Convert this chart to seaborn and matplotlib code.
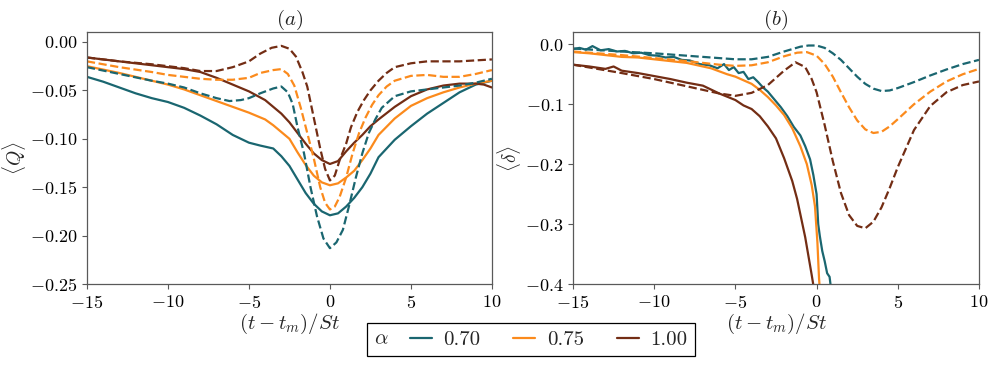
import matplotlib
matplotlib.use("Agg")
import matplotlib.pyplot as plt
from matplotlib.offsetbox import HPacker
import seaborn as sns

# ---- data ------------------------------------------------------------------
alphas = ["0.70", "0.75", "1.00"]
colors = ["#1a6670", "#fb8a1c", "#732d14"]

# panel (a): <Q>
qa_x_070 = [-15, -14, -13, -12, -11, -10, -9, -8, -7, -6, -5, -4.3, -3.5, -3, -2.5, -2, -1.5, -1, -0.5,
            0, 0.5, 1, 1.5, 2, 2.5, 3, 4, 5, 6, 7, 8, 9, 10]
qa_y_070 = [-0.036, -0.041, -0.047, -0.053, -0.058, -0.062, -0.068, -0.076, -0.085, -0.096, -0.104, -0.107,
            -0.110, -0.118, -0.128, -0.142, -0.156, -0.167, -0.175, -0.179, -0.177, -0.170, -0.161, -0.150,
            -0.136, -0.119, -0.101, -0.087, -0.074, -0.063, -0.052, -0.044, -0.040]
qa_xd_070 = [-15, -13, -11, -10, -9, -8, -7, -6.2, -5.5, -5, -4.3, -3.5, -3, -2.6, -2.3, -2, -1.6, -1.2, -0.8,
             -0.4, 0, 0.4, 0.8, 1.2, 1.6, 2, 2.4, 2.8, 3.2, 4, 5, 6, 7, 8, 9, 10]
qa_yd_070 = [-0.026, -0.033, -0.040, -0.043, -0.047, -0.053, -0.058, -0.061, -0.060, -0.058, -0.053, -0.048,
             -0.046, -0.052, -0.064, -0.088, -0.115, -0.150, -0.180, -0.203, -0.213, -0.207, -0.194, -0.168,
             -0.140, -0.115, -0.094, -0.080, -0.068, -0.056, -0.051, -0.049, -0.047, -0.045, -0.042, -0.038]

qa_x_075 = [-15, -13, -11, -10, -9, -8, -7, -6, -5, -4, -3.5, -3, -2.5, -2, -1.5, -1, -0.5, 0, 0.5, 1,
            1.5, 2, 2.5, 3, 4, 5, 6, 7, 8, 9, 10]
qa_y_075 = [-0.025, -0.032, -0.040, -0.044, -0.049, -0.055, -0.061, -0.067, -0.073, -0.080, -0.086, -0.093,
            -0.100, -0.114, -0.127, -0.138, -0.145, -0.148, -0.146, -0.140, -0.133, -0.122, -0.110, -0.096,
            -0.079, -0.066, -0.058, -0.052, -0.047, -0.043, -0.040]
qa_xd_075 = [-15, -13, -11, -10, -9, -8, -7, -6, -5, -4.3, -3.5, -3, -2.6, -2.2, -1.8, -1.4, -1, -0.6, -0.3,
             0, 0.3, 0.6, 1, 1.4, 1.8, 2.2, 2.6, 3, 3.5, 4, 5, 6, 7, 8, 9, 10]
qa_yd_075 = [-0.020, -0.026, -0.031, -0.034, -0.036, -0.038, -0.039, -0.039, -0.037, -0.032, -0.029, -0.028,
             -0.033, -0.045, -0.068, -0.094, -0.120, -0.150, -0.166, -0.173, -0.170, -0.160, -0.140, -0.115,
             -0.094, -0.078, -0.065, -0.055, -0.046, -0.040, -0.035, -0.034, -0.036, -0.036, -0.033, -0.029]

qa_x_100 = [-15, -13, -11, -10, -9, -8, -7, -6, -5, -4, -3.5, -3, -2.5, -2, -1.5, -1, -0.5, 0, 0.5, 1,
            1.5, 2, 2.5, 3, 4, 5, 6, 7, 8, 9, 9.5, 10]
qa_y_100 = [-0.016, -0.020, -0.024, -0.026, -0.028, -0.031, -0.037, -0.044, -0.051, -0.060, -0.067, -0.074,
            -0.083, -0.094, -0.105, -0.115, -0.122, -0.126, -0.123, -0.113, -0.104, -0.096, -0.087, -0.080,
            -0.067, -0.056, -0.049, -0.045, -0.043, -0.043, -0.044, -0.047]
qa_xd_100 = [-15, -13, -11, -10, -9, -8, -7, -6, -5, -4.3, -3.6, -3, -2.5, -2.1, -1.7, -1.4, -1, -0.6, -0.3,
             0, 0.3, 0.6, 1, 1.3, 1.7, 2.1, 2.5, 3, 3.5, 4, 5, 6, 7, 8, 9, 10]
qa_yd_100 = [-0.016, -0.020, -0.023, -0.025, -0.027, -0.030, -0.030, -0.026, -0.020, -0.012, -0.006, -0.004,
             -0.007, -0.015, -0.031, -0.046, -0.078, -0.110, -0.131, -0.143, -0.138, -0.122, -0.105, -0.088,
             -0.072, -0.060, -0.050, -0.040, -0.032, -0.026, -0.022, -0.020, -0.020, -0.020, -0.019, -0.018]

# panel (b): <delta>
db_x_070 = [-15, -14.6, -14.2, -13.8, -13.3, -12.8, -12.3, -11.8, -11.3, -10.8, -10.3, -9.8, -9.3, -8.8,
            -8.3, -7.8, -7.2, -6.6, -6.1, -5.7, -5.4, -5.1, -4.8, -4.5, -4.2, -3.9, -3.6, -3.3, -3.0, -2.6,
            -2.2, -1.8, -1.4, -1.0, -0.7, -0.4, -0.2, 0, 0.1, 0.2, 0.35, 0.5, 0.65, 0.8, 0.9]
db_y_070 = [-0.008, -0.006, -0.009, -0.003, -0.010, -0.008, -0.012, -0.011, -0.015, -0.014, -0.018, -0.019,
            -0.022, -0.021, -0.026, -0.027, -0.033, -0.035, -0.040, -0.033, -0.043, -0.038, -0.048, -0.046,
            -0.058, -0.055, -0.063, -0.072, -0.079, -0.092, -0.105, -0.120, -0.138, -0.152, -0.170, -0.192,
            -0.218, -0.250, -0.300, -0.320, -0.345, -0.362, -0.382, -0.388, -0.410]
db_xd_070 = [-15, -12, -10, -8, -6, -5, -4, -3, -2, -1, -0.5, 0, 0.5, 1, 1.5, 2, 2.5, 3, 3.5, 4, 4.5, 5,
             6, 7, 8, 9, 10]
db_yd_070 = [-0.007, -0.012, -0.015, -0.019, -0.023, -0.025, -0.025, -0.021, -0.012, -0.004, -0.002, -0.002,
             -0.006, -0.015, -0.026, -0.040, -0.054, -0.066, -0.074, -0.078, -0.077, -0.073, -0.063, -0.052,
             -0.042, -0.033, -0.026]

db_x_075 = [-15, -14, -13, -12, -11, -10, -9, -8, -7, -6.5, -6, -5.5, -5, -4.5, -4, -3.5, -3, -2.5, -2,
            -1.5, -1, -0.6, -0.3, -0.1, 0.05, 0.15, 0.2]
db_y_075 = [-0.013, -0.015, -0.018, -0.021, -0.022, -0.025, -0.028, -0.031, -0.037, -0.040, -0.045, -0.050,
            -0.054, -0.060, -0.066, -0.076, -0.088, -0.102, -0.118, -0.140, -0.170, -0.200, -0.235, -0.270,
            -0.330, -0.390, -0.410]
db_xd_075 = [-15, -12, -10, -8, -6, -5, -4, -3, -2, -1.2, -0.6, 0, 0.5, 1, 1.5, 2, 2.5, 3, 3.5, 4, 4.5, 5,
             6, 7, 8, 9, 10]
db_yd_075 = [-0.012, -0.018, -0.023, -0.028, -0.034, -0.036, -0.035, -0.030, -0.020, -0.014, -0.013, -0.019,
             -0.033, -0.054, -0.080, -0.105, -0.127, -0.142, -0.148, -0.146, -0.137, -0.125, -0.100, -0.079,
             -0.062, -0.050, -0.041]

db_x_100 = [-15, -14, -13, -12.5, -12, -11, -10, -9, -8, -7, -6, -5, -4.5, -4, -3.5, -3, -2.5, -2, -1.5,
            -1.2, -0.7, -0.3, -0.15]
db_y_100 = [-0.034, -0.037, -0.041, -0.037, -0.044, -0.048, -0.053, -0.058, -0.064, -0.069, -0.082, -0.093,
            -0.102, -0.108, -0.120, -0.137, -0.157, -0.190, -0.228, -0.258, -0.322, -0.385, -0.410]
db_xd_100 = [-15, -12, -10, -8, -6, -5, -4, -3, -2, -1.3, -0.7, -0.3, 0, 0.5, 1, 1.5, 2, 2.5, 3, 3.5, 4,
             4.5, 5, 6, 7, 8, 9, 10]
db_yd_100 = [-0.034, -0.048, -0.058, -0.070, -0.082, -0.086, -0.081, -0.068, -0.044, -0.030, -0.038, -0.058,
             -0.080, -0.135, -0.195, -0.248, -0.285, -0.303, -0.307, -0.296, -0.272, -0.240, -0.205, -0.143,
             -0.103, -0.080, -0.068, -0.062]

q_solid = [(qa_x_070, qa_y_070), (qa_x_075, qa_y_075), (qa_x_100, qa_y_100)]
q_dash = [(qa_xd_070, qa_yd_070), (qa_xd_075, qa_yd_075), (qa_xd_100, qa_yd_100)]
d_solid = [(db_x_070, db_y_070), (db_x_075, db_y_075), (db_x_100, db_y_100)]
d_dash = [(db_xd_070, db_yd_070), (db_xd_075, db_yd_075), (db_xd_100, db_yd_100)]

# ---- style ------------------------------------------------------------------
sns.set_style("ticks")
plt.rcParams.update({
    "font.family": "serif",
    "font.serif": ["cmr10", "DejaVu Serif"],
    "mathtext.fontset": "cm",
    "axes.formatter.use_mathtext": True,
    "axes.unicode_minus": True,
    "font.size": 13,
    "axes.edgecolor": "0.35",
    "axes.linewidth": 0.9,
    "xtick.major.size": 3.5,
    "ytick.major.size": 3.5,
    "xtick.color": "0.35",
    "ytick.color": "0.35",
    "xtick.labelcolor": "black",
    "ytick.labelcolor": "black",
    "xtick.labelsize": 13,
    "ytick.labelsize": 13,
})

fig = plt.figure(figsize=(9.96, 3.66), dpi=100)
ax1 = fig.add_axes([0.0873, 0.2240, 0.4066, 0.6885])
ax2 = fig.add_axes([0.5753, 0.2240, 0.4076, 0.6885])

handles = []
for (xs, ys), col in zip(q_solid, colors):
    sns.lineplot(x=xs, y=ys, ax=ax1, color=col, lw=1.6, estimator=None, sort=False)
    handles.append(ax1.lines[-1])
for (xs, ys), col in zip(q_dash, colors):
    sns.lineplot(x=xs, y=ys, ax=ax1, color=col, lw=1.6, linestyle="--", estimator=None, sort=False)
for (xs, ys), col in zip(d_solid, colors):
    sns.lineplot(x=xs, y=ys, ax=ax2, color=col, lw=1.6, estimator=None, sort=False)
for (xs, ys), col in zip(d_dash, colors):
    sns.lineplot(x=xs, y=ys, ax=ax2, color=col, lw=1.6, linestyle="--", estimator=None, sort=False)

ax1.set_xlim(-15, 10)
ax1.set_ylim(-0.25, 0.0103)
ax1.set_yticks([0.0, -0.05, -0.10, -0.15, -0.20, -0.25])
ax1.set_ylabel(r"$\langle Q \rangle$", fontsize=14, labelpad=1)
ax1.set_title(r"$(a)$", fontsize=15, pad=4)

ax2.set_xlim(-15, 10)
ax2.set_ylim(-0.4, 0.0205)
ax2.set_yticks([0.0, -0.1, -0.2, -0.3, -0.4])
ax2.set_ylabel(r"$\langle \delta \rangle$", fontsize=14, labelpad=1)
ax2.set_title(r"$(b)$", fontsize=15, pad=4)

for ax in (ax1, ax2):
    ax.set_xticks([-15, -10, -5, 0, 5, 10])
    ax.set_xlabel(r"$(t - t_m)/St$", fontsize=15, labelpad=1)

# legend: alpha as a title on the left, entries in one row
leg = fig.legend(handles=handles, labels=alphas, title=r"$\alpha$", ncol=3, loc="center",
                 bbox_to_anchor=(0.533, 0.072), fancybox=False, edgecolor="black", framealpha=1,
                 handlelength=1.05, handletextpad=0.55, columnspacing=1.6, borderpad=0.35,
                 fontsize=15, title_fontsize=15)
leg.get_frame().set_linewidth(0.9)
old = leg._legend_box
row = HPacker(pad=old.pad, sep=15, align="center", children=old.get_children())
row.set_figure(fig)
row.set_offset(leg._findoffset)
leg._legend_box = row

fig.savefig("out.png", dpi=100)
